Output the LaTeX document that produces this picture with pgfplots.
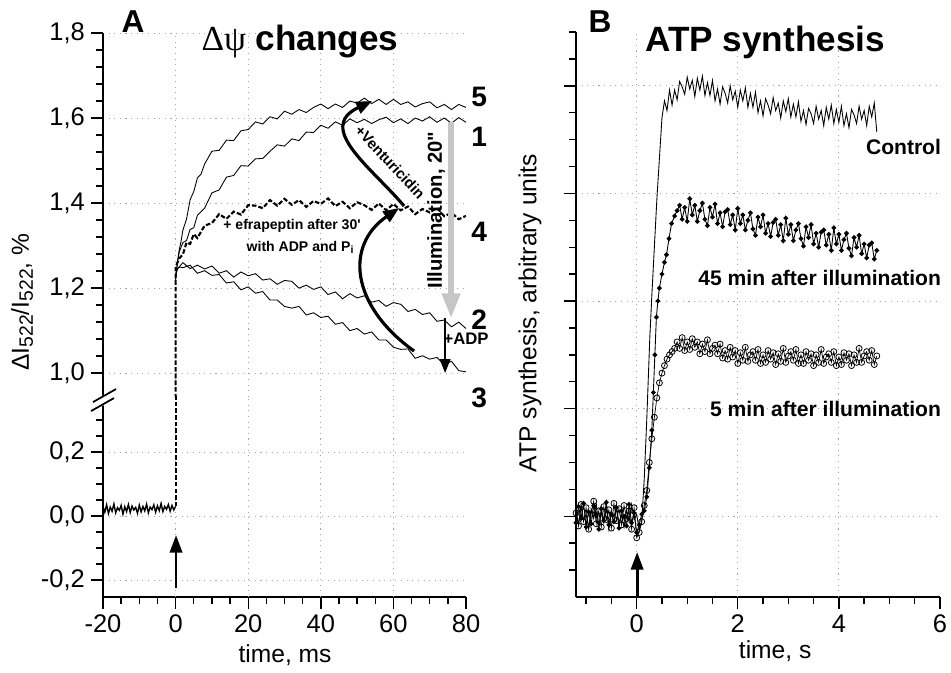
\documentclass[border=0pt]{standalone}
\usepackage{fontspec}
\setmainfont{Liberation Sans}
\newfontfamily\serif{Liberation Serif}
\usepackage{pgfplots}
\pgfplotsset{compat=1.18}
\usetikzlibrary{arrows.meta}

\pgfplotsset{
  every axis/.append style={
    scale only axis,
    anchor=south west,
    axis line style={line width=1pt},
    tick style={line width=0.8pt, black},
    major tick length=0.24cm,
    minor tick length=0.14cm,
    tick align=outside,
    tick label style={font=\fontsize{14.5}{16}\selectfont},
    /pgf/number format/assume math mode=true,
    major grid style={gray!70, line width=0.5pt, dash pattern=on 0.6pt off 2.6pt},
  },
  thin trace/.style={black, line width=0.5pt},
}

\begin{document}
\begin{tikzpicture}
\path[use as bounding box] (0,0) rectangle (19.02,13.46);

% ---------- panel A, upper part (above the break) ----------
\begin{axis}[
  at={(2.06cm,5.52cm)}, width=7.26cm, height=7.28cm,
  xmin=-20, xmax=80, ymin=0.944, ymax=1.8,
  axis x line*=bottom, axis y line*=left,
  x axis line style={draw=none},
  xtick=\empty,
  extra x ticks={0,20,40,60}, extra x tick labels={},
  extra x tick style={grid=major, major tick length=0pt},
  ytick={1.0,1.2,1.4,1.6,1.8}, minor y tick num=4,
  ymajorgrids,
  yticklabel style={/pgf/number format/.cd, fixed, fixed zerofill, precision=1, use comma},
]
% 5
\addplot[thin trace] coordinates {
 (0,1.22)(0.5,1.26)(1,1.29)(1.5,1.31)(2,1.336)(3,1.362)(4,1.408)(5,1.427)(6,1.459)(7,1.468)(8,1.492)
 (10,1.522)(12,1.524)(14,1.548)(16,1.547)(18,1.570)(20,1.573)(22,1.591)(24,1.586)(26,1.603)(28,1.598)
 (30,1.616)(32,1.609)(34,1.620)(36,1.613)(38,1.625)(40,1.633)(42,1.622)(44,1.633)(46,1.625)(48,1.640)
 (50,1.635)(52,1.647)(54,1.634)(56,1.644)(58,1.632)(60,1.644)(62,1.632)(64,1.638)(66,1.626)(68,1.634)
 (70,1.638)(72,1.624)(74,1.632)(76,1.620)(78,1.632)(80,1.625)};
% 1
\addplot[thin trace] coordinates {
 (0,1.22)(0.5,1.26)(1,1.285)(2,1.307)(3,1.312)(4,1.338)(5,1.342)(6,1.371)(8,1.388)(10,1.424)(12,1.431)
 (14,1.461)(16,1.465)(18,1.488)(20,1.487)(22,1.504)(24,1.505)(26,1.522)(28,1.537)(30,1.534)(32,1.551)
 (34,1.547)(36,1.567)(38,1.566)(40,1.583)(42,1.576)(44,1.591)(46,1.583)(48,1.598)(50,1.589)(52,1.597)
 (54,1.587)(56,1.596)(58,1.602)(60,1.589)(62,1.598)(64,1.587)(66,1.600)(68,1.593)(70,1.603)(72,1.590)
 (74,1.600)(76,1.588)(78,1.601)(80,1.590)};
% 4
\addplot[black, line width=1.2pt, dash pattern=on 2.6pt off 1.2pt] coordinates {
 (0,0.03)(0,1.25)(1,1.27)(2,1.279)(3,1.307)(4,1.304)(5,1.327)(6,1.318)(8,1.347)(10,1.353)(12,1.374)
 (14,1.363)(16,1.380)(18,1.373)(20,1.395)(22,1.394)(24,1.388)(26,1.407)(28,1.394)(30,1.410)(32,1.396)
 (34,1.407)(36,1.391)(38,1.405)(40,1.398)(42,1.411)(44,1.393)(46,1.403)(48,1.388)(50,1.402)(52,1.395)
 (54,1.384)(56,1.399)(58,1.383)(60,1.398)(62,1.383)(64,1.392)(66,1.374)(68,1.386)(70,1.378)(72,1.389)
 (74,1.369)(76,1.377)(78,1.362)(80,1.370)};
% 2
\addplot[thin trace] coordinates {
 (0,1.23)(0.5,1.245)(1,1.25)(2,1.260)(4,1.246)(6,1.254)(8,1.245)(10,1.252)(12,1.235)(14,1.241)
 (16,1.226)(18,1.238)(20,1.229)(22,1.234)(24,1.219)(26,1.222)(28,1.209)(30,1.218)(32,1.216)(34,1.200)
 (36,1.207)(38,1.197)(40,1.203)(42,1.185)(44,1.191)(46,1.175)(48,1.187)(50,1.177)(52,1.182)(54,1.167)
 (56,1.171)(58,1.157)(60,1.166)(62,1.162)(64,1.145)(66,1.150)(68,1.138)(70,1.142)(72,1.122)(74,1.125)
 (76,1.109)(78,1.120)(80,1.105)};
% 3
\addplot[thin trace] coordinates {
 (0,1.23)(0.5,1.245)(1,1.25)(2,1.248)(4,1.254)(6,1.235)(8,1.241)(10,1.230)(12,1.232)(14,1.212)
 (16,1.215)(18,1.196)(20,1.203)(22,1.188)(24,1.192)(26,1.172)(28,1.172)(30,1.157)(32,1.153)(34,1.157)
 (36,1.137)(38,1.142)(40,1.131)(42,1.134)(44,1.115)(46,1.119)(48,1.100)(50,1.105)(52,1.092)(54,1.097)
 (56,1.078)(58,1.078)(60,1.061)(62,1.056)(64,1.057)(66,1.035)(68,1.041)(70,1.033)(72,1.037)(74,1.020)
 (76,1.028)(78,1.006)(80,1.003)};
\end{axis}

% ---------- panel A, lower part (below the break) ----------
\begin{axis}[
  at={(2.06cm,1.52cm)}, width=7.26cm, height=4.0cm,
  xmin=-20, xmax=80, ymin=-0.253, ymax=0.372,
  axis x line*=bottom, axis y line*=left,
  xtick={-20,0,20,40,60,80}, minor x tick num=3,
  extra x ticks={0,20,40,60}, extra x tick labels={},
  extra x tick style={grid=major, major tick length=0pt},
  ytick={-0.2,0,0.2},
  minor ytick={-0.15,-0.1,-0.05,0.05,0.1,0.15,0.25,0.3},
  ymajorgrids,
  yticklabel style={/pgf/number format/.cd, fixed, fixed zerofill, precision=1, use comma},
]
% baseline before the flash
\addplot[black, line width=0.8pt] coordinates {
 (-20,0.030)(-19.5,0.012)(-19,0.035)(-18.5,0.008)(-18,0.028)(-17.5,0.015)(-17,0.038)(-16.5,0.010)
 (-16,0.026)(-15.5,0.018)(-15,0.033)(-14.5,0.006)(-14,0.029)(-13.5,0.014)(-13,0.036)(-12.5,0.011)
 (-12,0.031)(-11.5,0.019)(-11,0.027)(-10.5,0.009)(-10,0.034)(-9.5,0.013)(-9,0.030)(-8.5,0.016)
 (-8,0.037)(-7.5,0.010)(-7,0.028)(-6.5,0.020)(-6,0.035)(-5.5,0.012)(-5,0.032)(-4.5,0.017)
 (-4,0.039)(-3.5,0.014)(-3,0.030)(-2.5,0.021)(-2,0.036)(-1.5,0.015)(-1,0.033)(-0.5,0.019)(0,0.030)};
% jump of trace 4
\addplot[black, line width=1.2pt, dash pattern=on 2.6pt off 1.2pt] coordinates {(0,0.03)(0,1.25)};
\end{axis}

% ---------- panel B ----------
\begin{axis}[
  at={(11.52cm,1.52cm)}, width=7.28cm, height=11.3cm,
  xmin=-1.2, xmax=6, ymin=-0.75, ymax=4.5,
  axis x line*=bottom, axis y line*=left,
  xtick={0,2,4,6},
  minor xtick={-1,-0.5,0.5,1,1.5,2.5,3,3.5,4.5,5,5.5},
  extra x ticks={0,2,4}, extra x tick labels={},
  extra x tick style={grid=major, major tick length=0pt},
  ytick={0,1,2,3,4}, yticklabels={},
  minor ytick={-0.5,-0.25,0.25,0.5,0.75,1.25,1.5,1.75,2.25,2.5,2.75,3.25,3.5,3.75,4.25,4.5},
  ymajorgrids,
]
% Control
\addplot[thin trace] coordinates {
 (-1.20,0.05)(-1.15,-0.08)(-1.10,0.10)(-1.05,-0.04)(-1.00,0.02)(-0.95,-0.11)(-0.90,0.07)(-0.85,-0.02)
 (-0.80,0.12)(-0.75,-0.09)(-0.70,0.03)(-0.65,-0.06)(-0.60,0.08)(-0.55,-0.12)(-0.50,0.04)(-0.45,-0.01)
 (-0.40,0.09)(-0.35,-0.07)(-0.30,0.01)(-0.25,-0.10)(-0.20,0.06)(-0.15,-0.05)(-0.10,0.11)(-0.05,-0.03)
 (0.00,0.02)(0.05,-0.13)(0.10,-0.05)
 (0.15,0.35)(0.20,0.90)(0.26,1.66)(0.30,2.05)(0.35,2.50)(0.40,2.95)(0.46,3.40)(0.50,3.70)
 (0.55,3.86)(0.60,3.77)(0.65,3.96)(0.70,3.82)(0.75,3.96)(0.80,3.87)(0.85,4.04)(0.90,3.99)(0.95,3.92)
 (1.00,4.08)(1.05,3.97)(1.10,4.05)(1.15,3.90)(1.20,4.07)(1.25,3.96)(1.30,4.09)(1.35,3.91)(1.40,4.03)
 (1.45,3.91)(1.50,4.05)(1.55,3.86)(1.60,3.97)(1.65,3.83)(1.70,3.99)(1.75,3.93)(1.80,3.84)(1.85,4.00)
 (1.90,3.87)(1.95,3.95)(2.00,3.80)(2.05,3.96)(2.10,3.86)(2.15,3.98)(2.20,3.80)(2.25,3.93)(2.30,3.80)
 (2.35,3.94)(2.40,3.75)(2.45,3.86)(2.50,3.72)(2.55,3.88)(2.60,3.82)(2.65,3.74)(2.70,3.89)(2.75,3.77)
 (2.80,3.84)(2.85,3.70)(2.90,3.86)(2.95,3.76)(3.00,3.88)(3.05,3.71)(3.10,3.83)(3.15,3.71)(3.20,3.85)
 (3.25,3.67)(3.30,3.77)(3.35,3.64)(3.40,3.79)(3.45,3.74)(3.50,3.65)(3.55,3.81)(3.60,3.69)(3.65,3.77)
 (3.70,3.63)(3.75,3.80)(3.80,3.69)(3.85,3.82)(3.90,3.65)(3.95,3.78)(4.00,3.66)(4.05,3.81)(4.10,3.63)
 (4.15,3.74)(4.20,3.61)(4.25,3.78)(4.30,3.73)(4.35,3.65)(4.40,3.81)(4.45,3.69)(4.50,3.77)(4.55,3.63)
 (4.60,3.81)(4.65,3.71)(4.70,3.84)(4.75,3.57)};
% 45 min after illumination
\addplot[black, line width=0.5pt, mark=*, mark size=1.1pt] coordinates {
 (-1.20,-0.06)(-1.15,0.09)(-1.10,-0.02)(-1.05,0.12)(-1.00,-0.10)(-0.95,0.04)(-0.90,-0.07)(-0.85,0.10)
 (-0.80,0.01)(-0.75,-0.12)(-0.70,0.07)(-0.65,-0.04)(-0.60,0.13)(-0.55,-0.08)(-0.50,0.02)(-0.45,-0.05)
 (-0.40,0.08)(-0.35,-0.11)(-0.30,0.05)(-0.25,0.00)(-0.20,-0.09)(-0.15,0.11)(-0.10,-0.06)(-0.05,0.03)
 (0.00,-0.15)(0.05,-0.08)(0.10,0.02)
 (0.15,0.05)(0.20,0.18)(0.25,0.45)(0.30,0.80)(0.33,1.15)(0.36,1.50)(0.39,1.85)(0.42,2.00)(0.45,2.12)
 (0.50,2.25)(0.55,2.36)(0.59,2.43)(0.64,2.58)(0.69,2.72)(0.75,2.79)(0.80,2.84)
 (0.85,2.89)(0.90,2.76)(0.95,2.87)(1.00,2.74)(1.05,2.95)(1.10,2.80)(1.15,2.89)(1.20,2.74)(1.25,2.84)
 (1.30,2.91)(1.35,2.76)(1.40,2.70)(1.45,2.87)(1.50,2.78)(1.55,2.90)(1.60,2.72)(1.65,2.82)(1.70,2.69)
 (1.75,2.83)(1.80,2.85)(1.85,2.71)(1.90,2.80)(1.95,2.66)(2.00,2.86)(2.05,2.72)(2.10,2.80)(2.15,2.66)
 (2.20,2.75)(2.25,2.82)(2.30,2.67)(2.35,2.61)(2.40,2.78)(2.45,2.69)(2.50,2.80)(2.55,2.63)(2.60,2.72)
 (2.65,2.60)(2.70,2.73)(2.75,2.76)(2.80,2.61)(2.85,2.71)(2.90,2.56)(2.95,2.77)(3.00,2.62)(3.05,2.71)
 (3.10,2.56)(3.15,2.66)(3.20,2.72)(3.25,2.58)(3.30,2.51)(3.35,2.69)(3.40,2.59)(3.45,2.71)(3.50,2.53)
 (3.55,2.63)(3.60,2.50)(3.65,2.64)(3.70,2.66)(3.75,2.52)(3.80,2.62)(3.85,2.47)(3.90,2.68)(3.95,2.53)
 (4.00,2.62)(4.05,2.47)(4.10,2.57)(4.15,2.63)(4.20,2.49)(4.25,2.42)(4.30,2.59)(4.35,2.50)(4.40,2.61)
 (4.45,2.44)(4.50,2.53)(4.55,2.40)(4.60,2.52)(4.65,2.54)(4.70,2.39)(4.75,2.47)};
% 5 min after illumination
\addplot[black, line width=0.4pt, mark=o, mark size=1.7pt, mark options={line width=0.45pt, fill=white}] coordinates {
 (-1.20,0.03)(-1.15,-0.09)(-1.10,0.11)(-1.05,-0.05)(-1.00,0.08)(-0.95,-0.12)(-0.90,0.02)(-0.85,0.14)
 (-0.80,-0.07)(-0.75,0.05)(-0.70,-0.10)(-0.65,0.09)(-0.60,-0.03)(-0.55,0.06)(-0.50,-0.11)(-0.45,0.12)
 (-0.40,-0.04)(-0.35,0.07)(-0.30,-0.08)(-0.25,0.10)(-0.20,-0.02)(-0.15,0.05)(-0.10,-0.12)(-0.05,0.08)
 (0.00,-0.20)(0.05,-0.15)(0.10,-0.05)
 (0.15,0.10)(0.20,0.24)(0.25,0.50)(0.30,0.72)(0.35,0.92)(0.40,1.10)(0.45,1.24)(0.50,1.33)(0.55,1.40)
 (0.60,1.46)(0.65,1.50)(0.70,1.53)(0.75,1.56)
 (0.80,1.62)(0.85,1.56)(0.90,1.66)(0.95,1.54)(1.00,1.62)(1.05,1.55)(1.10,1.65)(1.15,1.57)(1.20,1.62)
 (1.25,1.51)(1.30,1.60)(1.35,1.53)(1.40,1.64)(1.45,1.51)(1.50,1.56)(1.55,1.59)(1.60,1.51)(1.65,1.60)
 (1.70,1.47)(1.75,1.54)(1.80,1.46)(1.85,1.57)(1.90,1.48)(1.95,1.54)(2.00,1.42)(2.05,1.52)(2.10,1.45)
 (2.15,1.57)(2.20,1.44)(2.25,1.50)(2.30,1.53)(2.35,1.45)(2.40,1.55)(2.45,1.42)(2.50,1.50)(2.55,1.43)
 (2.60,1.54)(2.65,1.46)(2.70,1.52)(2.75,1.41)(2.80,1.51)(2.85,1.44)(2.90,1.56)(2.95,1.43)(3.00,1.49)
 (3.05,1.53)(3.10,1.45)(3.15,1.55)(3.20,1.42)(3.25,1.50)(3.30,1.42)(3.35,1.53)(3.40,1.45)(3.45,1.51)
 (3.50,1.40)(3.55,1.50)(3.60,1.43)(3.65,1.55)(3.70,1.42)(3.75,1.48)(3.80,1.51)(3.85,1.43)(3.90,1.53)
 (3.95,1.40)(4.00,1.48)(4.05,1.41)(4.10,1.52)(4.15,1.45)(4.20,1.51)(4.25,1.40)(4.30,1.50)(4.35,1.43)
 (4.40,1.56)(4.45,1.43)(4.50,1.49)(4.55,1.53)(4.60,1.45)(4.65,1.54)(4.70,1.41)(4.75,1.49)};
\end{axis}

% ---------- texts and arrows, placed in image pixels ----------
\begin{scope}[x=0.02cm, y=-0.02cm, yshift=13.46cm]
% axis break
\fill[white] (92,401) -- (116,389) -- (116,399) -- (92,411) -- cycle;
\draw[line width=1pt] (93,402) -- (116,389);
\draw[line width=1pt] (91,411) -- (114,398);

% panel A texts
\node[font=\bfseries\fontsize{18}{20}\selectfont] at (133,22) {A};
\node[font=\fontsize{20}{22}\selectfont] at (300,42) {{\serif Δψ} \textbf{changes}};
\node[rotate=90, font=\fontsize{14}{16}\selectfont] at (22,302)
  {ΔI\raisebox{-0.3ex}{\fontsize{11}{12}\selectfont 522}/I\raisebox{-0.3ex}{\fontsize{11}{12}\selectfont 522}, \%};
\node[font=\fontsize{14}{16}\selectfont] at (285,655) {time, ms};
\foreach \lab/\yy in {5/97, 1/137, 4/232, 2/320, 3/398}
  \node[font=\bfseries\fontsize{16}{18}\selectfont] at (479,\yy) {\lab};

\node[font=\bfseries\fontsize{8}{10}\selectfont] at (292,226) {+ efrapeptin after 30\textquotesingle};
\node[font=\bfseries\fontsize{8}{10}\selectfont] at (300,247) {with ADP and P\raisebox{-0.3ex}{\fontsize{6}{7}\selectfont i}};
\node[rotate=-47, font=\bfseries\fontsize{8.5}{10}\selectfont] at (390,162) {+Venturicidin};
\node[rotate=90, font=\bfseries\fontsize{11.5}{13}\selectfont] at (436,210) {Illumination, 20\textquotedbl};
\node[font=\bfseries\fontsize{9.5}{11}\selectfont] at (466,339) {+ADP};

\draw[gray!45, line width=3pt, -{Triangle[length=14pt, width=10pt]}] (451,122) -- (451,318);
\draw[black, line width=1.2pt, -{Triangle[length=8pt, width=6pt]}] (445,318) -- (445,373);
\draw[black, line width=1.8pt, -{Triangle[length=9pt, width=7pt]}]
  (414,351) .. controls (350,305) and (345,245) .. (399,208);
\draw[black, line width=1.8pt, -{Triangle[length=9pt, width=7pt]}]
  (404,206) .. controls (372,168) and (315,128) .. (372,101);
\draw[black, line width=1.6pt, -{Triangle[length=10pt, width=7pt]}] (176,588) -- (176,535);

% panel B texts
\node[font=\bfseries\fontsize{18}{20}\selectfont] at (600,22) {B};
\node[font=\bfseries\fontsize{20}{22}\selectfont] at (765,42) {ATP synthesis};
\node[rotate=90, font=\fontsize{14}{16}\selectfont] at (530,313) {ATP synthesis, arbitrary units};
\node[font=\fontsize{14}{16}\selectfont] at (775,651) {time, s};
\node[anchor=east, font=\bfseries\fontsize{12}{14}\selectfont] at (947,147) {Control};
\node[anchor=east, font=\bfseries\fontsize{12}{14}\selectfont] at (947,278) {45 min after illumination};
\node[anchor=east, font=\bfseries\fontsize{12}{14}\selectfont] at (947,409) {5 min after illumination};
\draw[black, line width=1.6pt, -{Triangle[length=10pt, width=7pt]}] (637,598) -- (637,552);
\end{scope}
\end{tikzpicture}
\end{document}
